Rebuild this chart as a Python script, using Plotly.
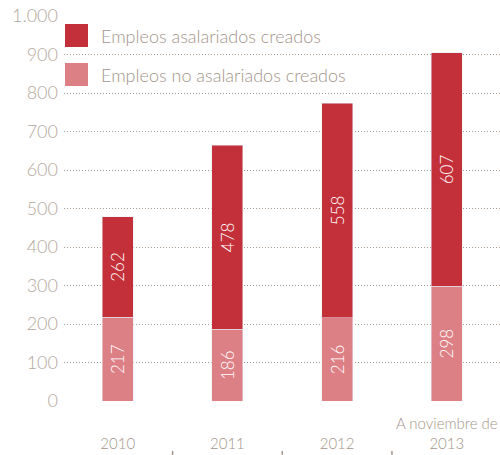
import plotly.graph_objects as go

years = ["2010", "2011", "2012", "2013"]
tick_labels = ["<br>2010", "<br>2011", "<br>2012", "A noviembre de<br>2013"]
no_asalariados = [217, 186, 216, 298]
asalariados = [262, 478, 558, 607]
y_ticks = [0, 100, 200, 300, 400, 500, 600, 700, 800, 900, 1000]
y_tick_text = ["0", "100", "200", "300", "400", "500", "600", "700", "800", "900", "1.000"]
legend_names = ["Empleos asalariados creados", "Empleos no asalariados creados"]

DARK = "#c3303a"
LIGHT = "#dc8086"
TXT = "#a3958a"
TICK = "#b3a89e"
GRID = "#a8998c"
FONT = "Lato"

x = list(range(len(years)))

fig = go.Figure()
fig.add_trace(go.Bar(
    x=x, y=no_asalariados, name=legend_names[1], marker_color=LIGHT,
    width=0.283, text=[str(v) for v in no_asalariados], textposition="inside",
    insidetextanchor="middle", textangle=-90,
    textfont=dict(color="white", size=17, family=FONT, weight=300), showlegend=False,
))
fig.add_trace(go.Bar(
    x=x, y=asalariados, name=legend_names[0], marker_color=DARK,
    width=0.283, text=[str(v) for v in asalariados], textposition="inside",
    insidetextanchor="middle", textangle=-90,
    textfont=dict(color="white", size=17, family=FONT, weight=300), showlegend=False,
))

# custom legend (large squares)
px_y = 1 / 385.0
legend_rows = [(24, 47, 36), (63, 86, 75)]
colors = [DARK, LIGHT]
for (top, bot, mid), name, c in zip(legend_rows, legend_names, colors):
    fig.add_shape(type="rect", xref="paper", yref="paper",
                  x0=1 / 436.0, x1=24 / 436.0,
                  y0=1 - (bot - 16) * px_y, y1=1 - (top - 16) * px_y,
                  fillcolor=c, line_width=0, layer="above")
    fig.add_annotation(xref="paper", yref="paper", x=35 / 436.0,
                       y=1 - (mid - 16) * px_y, text=name, showarrow=False,
                       xanchor="left", yanchor="middle",
                       font=dict(color=TXT, size=18, family=FONT, weight=300))

# category divider ticks at bottom
for i, b in enumerate([-0.5, 0.5, 1.5, 2.5]):
    y0 = -(446 - 401) * px_y if i == 0 else -(451 - 401) * px_y
    fig.add_shape(type="line", xref="x", yref="paper", x0=b, x1=b,
                  y0=y0, y1=-(456 - 401) * px_y,
                  line=dict(color=TXT, width=1.5))

fig.update_layout(
    barmode="stack",
    width=500, height=455,
    margin=dict(l=64, r=0, t=16, b=54),
    plot_bgcolor="white", paper_bgcolor="white",
    font=dict(family=FONT, color=TXT),
    showlegend=False,
)
fig.update_xaxes(
    range=[-0.49, 3.485], tickmode="array", tickvals=x, ticktext=tick_labels,
    showgrid=False, zeroline=False, showline=False, ticks="",
    tickfont=dict(size=15, color=TXT, family=FONT, weight=300), ticklabelstandoff=12,
)
fig.update_yaxes(
    range=[0, 1000], tickmode="array", tickvals=y_ticks, ticktext=y_tick_text,
    showgrid=True, gridcolor=GRID, griddash="1px,2px", gridwidth=1,
    zeroline=False, showline=False, ticks="",
    tickfont=dict(size=18, color=TICK, family=FONT, weight=300), ticklabelstandoff=5,
)

fig.write_html("out.html", config={"displayModeBar": False},
               post_script="document.body.style.margin='0';")
